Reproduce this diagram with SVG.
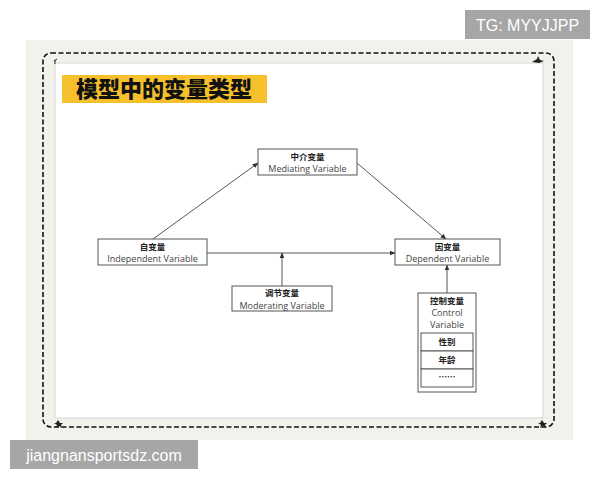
<svg xmlns="http://www.w3.org/2000/svg" width="600" height="480" viewBox="0 0 600 480">
<defs>
<marker id="ah" viewBox="0 0 10 10" refX="9" refY="5" markerWidth="6" markerHeight="6" orient="auto-start-reverse" markerUnits="userSpaceOnUse"><path d="M0,1 L10,5 L0,9 z" fill="#333"/></marker>
<style>
.box{fill:#fff;stroke:#555;stroke-width:1}
.cn{font-family:"Noto Sans CJK SC",sans-serif;font-weight:700;font-size:8.5px;fill:#222;text-anchor:middle}
.en{font-family:"Open Sans","Noto Sans",sans-serif;font-size:9px;fill:#444;text-anchor:middle}
.edge{stroke:#444;stroke-width:0.9;fill:none;marker-end:url(#ah)}
.wm{fill:#a6a6a6}
.wmt{font-family:"Liberation Sans",Arial,sans-serif;fill:#fff;font-size:16px}
</style>
</defs>
<rect width="600" height="480" fill="#fff"/>
<rect x="26" y="40" width="547" height="400" fill="#f2f1ec"/>
<rect x="55" y="63" width="488" height="355" fill="#fff" stroke="#ddd" stroke-width="1.2"/>
<rect x="43" y="53" width="511" height="374" rx="8" fill="none" stroke="#111" stroke-width="1.6" stroke-dasharray="5 2.5"/>
<polygon points="56,423 58,420 60,423 63,423 61,425 62,428 59,426 56,428 57,425 54,423" fill="#222"/>
<polygon points="540,423 542,420 544,423 547,423 545,425 546,428 543,426 540,428 541,425 538,423" fill="#222"/>
<polygon points="532,62 537,59 538,56 540,60 544,61 539,63" fill="#222"/>
<path d="M54,61 L57,59 M55,60 L55,64" stroke="#222" stroke-width="1"/>
<g id="title">
<rect x="62" y="75" width="205" height="28" fill="#f5c02c"/>
<text x="76" y="97" font-family="Noto Sans CJK SC,sans-serif" font-weight="900" font-size="22" fill="#111">模型中的变量类型</text>
</g>
<g id="connectors">
<line class="edge" x1="153" y1="239" x2="258" y2="163"/>
<line class="edge" x1="357" y1="163" x2="446" y2="239"/>
<line class="edge" x1="207" y1="253" x2="395" y2="253"/>
<line class="edge" x1="282" y1="286" x2="282" y2="253"/>
<line class="edge" x1="447" y1="293" x2="447" y2="265"/>
</g>
<g id="mediating">
<rect class="box" x="258" y="149" width="99" height="26"/>
<text class="cn" x="307.5" y="159.5">中介变量</text>
<text class="en" x="307.5" y="172">Mediating Variable</text>
</g>
<g id="independent">
<rect class="box" x="98" y="239" width="109" height="26"/>
<text class="cn" x="152.5" y="249.5">自变量</text>
<text class="en" x="152.5" y="262">Independent Variable</text>
</g>
<g id="dependent">
<rect class="box" x="395" y="239" width="105" height="26"/>
<text class="cn" x="447.5" y="249.5">因变量</text>
<text class="en" x="447.5" y="262">Dependent Variable</text>
</g>
<g id="moderating">
<rect class="box" x="232" y="286" width="100" height="25"/>
<text class="cn" x="282" y="296">调节变量</text>
<text class="en" x="282" y="308.5">Moderating Variable</text>
</g>
<g id="control">
<rect class="box" x="418" y="293" width="58" height="99"/>
<text class="cn" x="447" y="303.5">控制变量</text>
<text class="en" x="447" y="316">Control</text>
<text class="en" x="447" y="327.5">Variable</text>
<rect class="box" x="421" y="333" width="52" height="18"/>
<rect class="box" x="421" y="351" width="52" height="18"/>
<rect class="box" x="421" y="369" width="52" height="18"/>
<text class="cn" x="447" y="345">性别</text>
<text class="cn" x="447" y="363">年龄</text>
<text class="cn" x="447" y="380" font-weight="400">……</text>
</g>
<g id="watermarks">
<rect class="wm" x="465" y="10" width="125" height="29"/>
<text class="wmt" x="527.5" y="30.5" text-anchor="middle">TG: MYYJJPP</text>
<rect class="wm" x="10" y="440" width="188" height="29"/>
<text class="wmt" x="104" y="460.5" text-anchor="middle">jiangnansportsdz.com</text>
</g>
</svg>
